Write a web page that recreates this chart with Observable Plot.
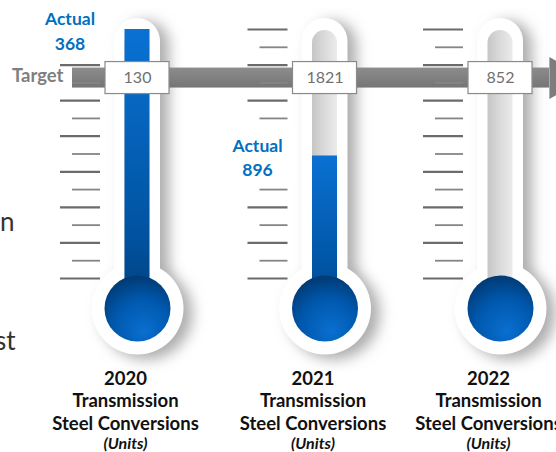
<!DOCTYPE html>
<html><head><meta charset="utf-8">
<script src="https://cdn.jsdelivr.net/npm/d3@7"></script>
<script src="https://cdn.jsdelivr.net/npm/@observablehq/plot@0.6"></script>
<style>html,body{margin:0;padding:0;background:#fff;overflow:hidden}</style>
</head><body><div id="chart"></div>
<script>
// ---- data ----
const years = [2020, 2021, 2022];
const actual = [368, 896, null];
const target = [130, 1821, 852];
const titleLine1 = "Transmission";
const titleLine2 = "Steel Conversions";
const unitsLabel = "(Units)";
const targetLabel = "Target";
const actualLabel = "Actual";
const leftFragments = ["n", "st"];

// ---- derived ----
const rows = years.map((year, i) => ({
  year, actual: actual[i], target: target[i],
  level: actual[i] == null ? 0 : Math.min(actual[i] / target[i], 1)
}));
const tickSteps = 14;
const tickRows = rows.flatMap(r => d3.range(tickSteps + 1).map(i => ({year: r.year, v: i / tickSteps, long: i % 2 === 0})));

// ---- layout constants ----
const TUBE_TOP = 1.044, TUBE_BOTTOM = -0.25, CHANNEL_TOP = 0.996, TARGET_LEVEL = 0.805;
const font = "Lato, 'Open Sans', sans-serif";
const grey = "#7d7d7d";
const c = v => () => v;

const marks = [
  // soft shadows (blurred after render)
  Plot.rect(rows, {x1: "year", x2: "year", y1: c(TUBE_BOTTOM), y2: c(TUBE_TOP), insetLeft: -23, insetRight: -23, rx: 23, dx: 9, dy: 3, fill: "#adadad"}),
  Plot.dot(rows, {x: "year", y: c(0), r: 46, dx: 9, dy: 35, fill: "#adadad"}),
  // white tube + bulb
  Plot.rect(rows, {x1: "year", x2: "year", y1: c(TUBE_BOTTOM), y2: c(TUBE_TOP), insetLeft: -23, insetRight: -23, rx: 23, fill: "white"}),
  Plot.dot(rows, {x: "year", y: c(0), r: 46, dy: 30, fill: "white"}),
  // empty channel
  Plot.rect(rows, {x1: "year", x2: "year", y1: c(TUBE_BOTTOM), y2: c(CHANNEL_TOP), insetLeft: -12.5, insetRight: -12.5, rx: 12.5, fill: "url(#channelGrad)"}),
  // blue fill
  Plot.rect(rows, {x1: "year", x2: "year", y1: c(-0.2), y2: "level", insetLeft: -12.5, insetRight: -12.5, fill: "url(#fillGrad)"}),
  Plot.dot(rows, {x: "year", y: c(0), r: 33, dy: 30, fill: "url(#bulbGrad)"}),
  // target arrow
  Plot.rect([{a: years[0], b: years[years.length - 1]}], {x1: "a", x2: "b", y1: c(TARGET_LEVEL), y2: c(TARGET_LEVEL), insetLeft: -65, insetRight: -49, insetTop: -10, insetBottom: -10, fill: "url(#bandGrad)"}),
  Plot.dot([years[years.length - 1]], {x: d => d, y: c(TARGET_LEVEL), symbol: "triangle", r: 15.6, rotate: 90, dx: 61, fill: grey}),
  // scale ticks
  Plot.ruleY(tickRows.filter(d => d.long), {x1: "year", x2: "year", y: "v", insetLeft: -77, insetRight: 37, stroke: "#6b6b6b", strokeWidth: 2.2}),
  Plot.ruleY(tickRows.filter(d => !d.long), {x1: "year", x2: "year", y: "v", insetLeft: -65, insetRight: 37, stroke: "#858585", strokeWidth: 1.8}),
  // actual label background
  Plot.rect(rows.filter(d => d.actual != null), {x1: "year", x2: "year", y1: "level", y2: "level", insetLeft: -102, insetRight: 30, insetTop: -27, insetBottom: -24, fill: "white"}),
  // target boxes
  Plot.rect(rows, {x1: "year", x2: "year", y1: c(TARGET_LEVEL), y2: c(TARGET_LEVEL), insetLeft: -32, insetRight: -32, insetTop: -16, insetBottom: -16, fill: "white", stroke: "#8a8a8a", strokeWidth: 1.2}),
  Plot.text(rows, {x: "year", y: c(TARGET_LEVEL), text: d => String(d.target), fill: "#707070", fontSize: 16, fontFamily: font}),
  Plot.text([targetLabel], {x: c(years[0]), y: c(TARGET_LEVEL), text: d => d, dx: -74, dy: -2, textAnchor: "end", fontWeight: "bold", fontSize: 18.5, fill: "#7f7f7f", fontFamily: font}),
  // actual labels
  Plot.text(rows.filter(d => d.actual != null), {x: "year", y: "level", text: d => `${actualLabel}\n${d.actual}`, dx: -67.5, dy: 0, lineHeight: 1.4, fill: "#0070c0", fontWeight: "bold", fontSize: 17.5, fontFamily: font}),
  // bottom titles
  Plot.text(rows, {x: "year", y: c(0), text: d => `${d.year}\n${titleLine1}\n${titleLine2}`, lineAnchor: "top", dy: 90, dx: -12, lineHeight: 1.22, fontSize: 18.5, fontWeight: "bold", fill: "#111", fontFamily: font}),
  Plot.text(rows, {x: "year", y: c(0), text: c(unitsLabel), lineAnchor: "top", dy: 159.5, dx: -12, fontSize: 16, fontStyle: "italic", fontWeight: "bold", fill: "#111", fontFamily: font}),
  // cut-off slide text at left edge
  Plot.text([leftFragments[0]], {frameAnchor: "left", text: d => d, textAnchor: "end", dx: 14, dy: -4, fontSize: 26, fill: "#333", fontFamily: font}),
  Plot.text([leftFragments[1]], {frameAnchor: "left", text: d => d, textAnchor: "end", dx: 15, dy: 115, fontSize: 26, fill: "#333", fontFamily: font})
];

const svg = Plot.plot({
  width: 556, height: 452, margin: 0,
  x: {type: "linear", domain: years, range: [137, 324.5, 500], axis: null},
  y: {domain: [0, 1], range: [278, 29], axis: null},
  style: {background: "white", fontFamily: font},
  marks
});

const defs = d3.select(svg).insert("defs", ":first-child");
defs.html(`
<filter id="shadowBlur" x="-100%" y="-100%" width="300%" height="300%"><feGaussianBlur stdDeviation="7"/></filter>
<linearGradient id="fillGrad" x1="0" y1="0" x2="0" y2="1"><stop offset="0" stop-color="#0a71d3"/><stop offset="0.7" stop-color="#00529f"/><stop offset="1" stop-color="#003b75"/></linearGradient>
<linearGradient id="channelGrad" x1="0" y1="0" x2="1" y2="0"><stop offset="0" stop-color="#c6c6c6"/><stop offset="0.5" stop-color="#dadada"/><stop offset="1" stop-color="#ebebeb"/></linearGradient>
<linearGradient id="bandGrad" x1="0" y1="0" x2="0" y2="1"><stop offset="0" stop-color="#8c8c8c"/><stop offset="1" stop-color="#757575"/></linearGradient>
<radialGradient id="bulbGrad" cx="0.55" cy="0.75" r="0.8" fx="0.6" fy="0.85"><stop offset="0" stop-color="#0a6fd0"/><stop offset="0.55" stop-color="#0058ad"/><stop offset="1" stop-color="#00366b"/></radialGradient>
`);
d3.select(svg).selectAll(":scope > g").filter((d, i) => i < 2).attr("filter", "url(#shadowBlur)");
document.getElementById("chart").appendChild(svg);
</script>
</body></html>
